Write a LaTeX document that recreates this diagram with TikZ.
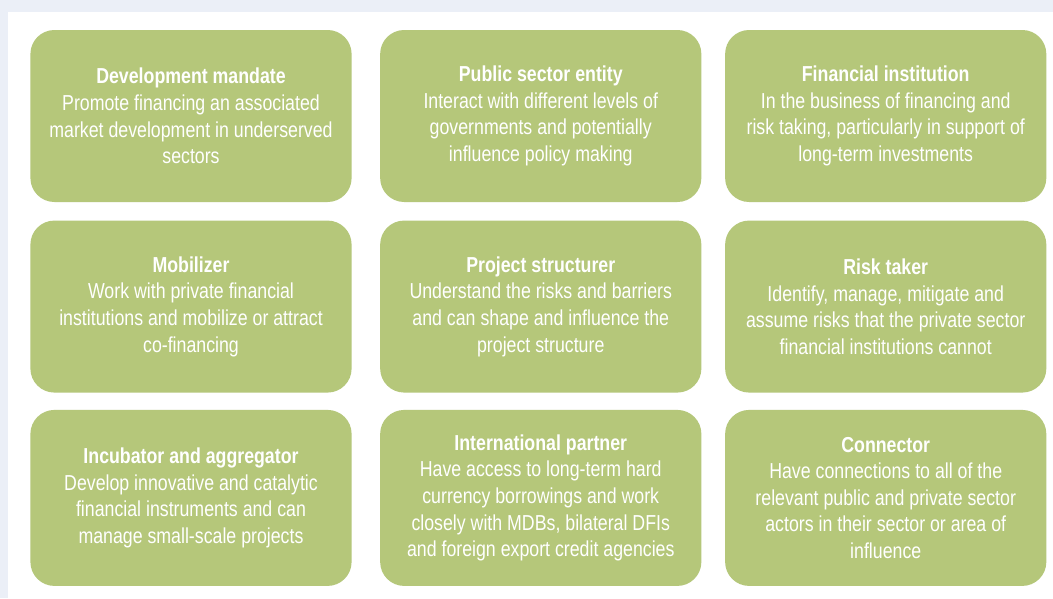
\documentclass[tikz,border=0pt]{standalone}
\usepackage{fontspec}
\setmainfont[FakeStretch=0.82]{Liberation Sans}
\usepackage{xcolor}
\usetikzlibrary{positioning}
\definecolor{rolegreen}{RGB}{181,199,122}
\definecolor{pageblue}{RGB}{235,239,247}

\begin{document}
\begin{tikzpicture}[
  node distance=0.45cm and 0.7cm,
  role/.style={rectangle, rounded corners=0.6cm, fill=rolegreen, text=white, minimum width=8.03cm, minimum height=4.3cm, align=center, font=\fontsize{15.4}{18.9}\selectfont},
]

% Page
\fill[pageblue] (0,0) rectangle (26.325,-14.95);
\fill[white] (0.2,-0.3) rectangle (26.325,-14.95);
\useasboundingbox (0,0) rectangle (26.325,-14.95);

% First row
\node[role] (mandate) at (4.775,-2.9) {\textbf{Development mandate}\\Promote financing an associated\\market development in underserved\\sectors};
\node[role, right=of mandate] (public) {\textbf{Public sector entity}\\Interact with different levels of\\governments and potentially\\influence policy making};
\node[role, right=0.58cm of public] (financial) {\textbf{Financial institution}\\In the business of financing and\\risk taking, particularly in support of\\long-term investments};

% Second row
\node[role, below=of mandate] (mobilizer) {\textbf{Mobilizer}\\Work with private financial\\institutions and mobilize or attract\\co-financing};
\node[role, below=of public] (structurer) {\textbf{Project structurer}\\Understand the risks and barriers\\and can shape and influence the\\project structure};
\node[role, below=of financial] (risk) {\textbf{Risk taker}\\Identify, manage, mitigate and\\assume risks that the private sector\\financial institutions cannot};

% Third row
\node[role, below=0.42cm of mobilizer, minimum height=4.4cm] (incubator) {\textbf{Incubator and aggregator}\\Develop innovative and catalytic\\financial instruments and can\\manage small-scale projects};
\node[role, below=0.42cm of structurer, minimum height=4.4cm] (partner) {\textbf{International partner}\\Have access to long-term hard\\currency borrowings and work\\closely with MDBs, bilateral DFIs\\and foreign export credit agencies};
\node[role, below=0.42cm of risk, minimum height=4.4cm] (connector) {\textbf{Connector}\\Have connections to all of the\\relevant public and private sector\\actors in their sector or area of\\influence};

\end{tikzpicture}
\end{document}
